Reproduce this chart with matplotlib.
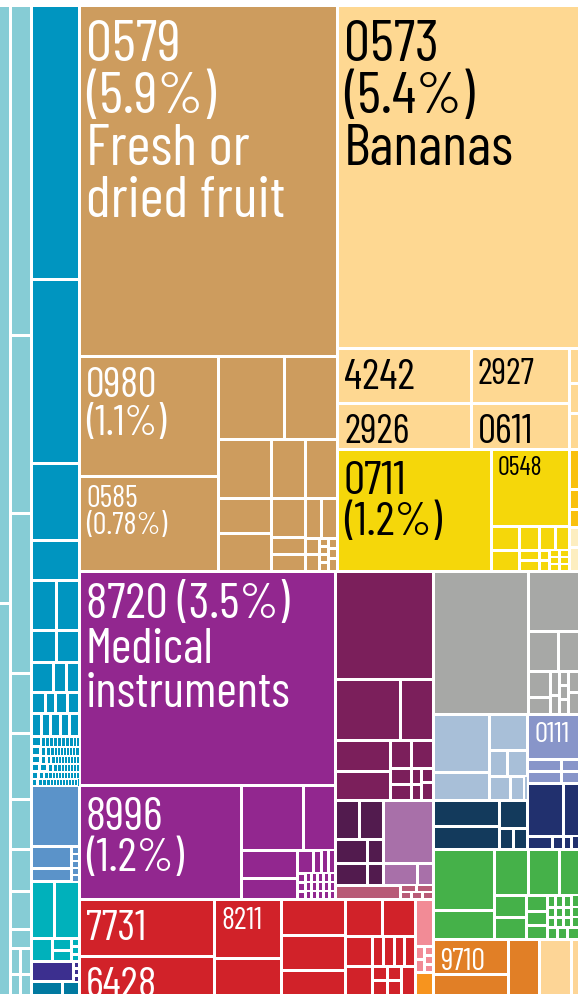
import matplotlib
matplotlib.use("Agg")
import matplotlib.pyplot as plt
from matplotlib.patches import Rectangle

W, H = 578, 994
TOP = 5.5

# colours per product group
LTEAL = "#86ccd5"
DTEAL = "#0095c0"
BLUE = "#5b93c9"
TEAL = "#00b1bb"
PNAVY = "#3c2f8f"
DTEAL2 = "#0079a0"
BROWN = "#cd9c5e"
LORANGE = "#fed892"
YELLOW = "#f5d70a"
GOLD = "#f9c10e"
PALE = "#fdeec0"
PURPLE = "#92278f"
MAGENTA = "#7b1f5b"
DPURPLE = "#521b4e"
LILAC = "#a870a9"
ROSE = "#b85b77"
RED = "#d12229"
PINK = "#f28b96"
ORANGE2 = "#f7941e"
GREY = "#a7a8a6"
LBLUE = "#a8bfd8"
PERI = "#8895c9"
NAVY = "#133a5c"
DNAVY = "#21306e"
GREEN = "#45b149"
ORANGE = "#e17f26"
LORANGE2 = "#fdd596"

# label text, font size, text colour
labels = {
    "0579": ("0579\n(5.9%)\nFresh or\ndried fruit", 42, "white"),
    "0573": ("0573\n(5.4%)\nBananas", 42, "black"),
    "0980": ("0980\n(1.1%)", 30, "white"),
    "0585": ("0585\n(0.78%)", 22, "white"),
    "4242": ("4242", 31, "black"),
    "2927": ("2927", 26, "black"),
    "2926": ("2926", 29, "black"),
    "0611": ("0611", 29, "black"),
    "0711": ("0711\n(1.2%)", 34, "black"),
    "0548": ("0548", 19, "black"),
    "8720": ("8720 (3.5%)\nMedical\ninstruments", 36, "white"),
    "8996": ("8996\n(1.2%)", 34, "white"),
    "7731": ("7731", 31, "white"),
    "6428": ("6428", 31, "white"),
    "8211": ("8211", 22, "white"),
    "0111": ("0111", 21, "white"),
    "9710": ("9710", 22, "white"),
}

# values (share of area) - nested lists alternate split direction
col_a = [59.75, 39.1]
col_b = [70.95, 38.38, 34.4, 12.9, 14.08, 10.75, 9.03, 8.17, 4.09,
         [2.85, 2.85], [2.05, 2.04]]
dteal_big = [131.5, 88.3, 37.2, 19.2,
             [12.375, 11.385], [8.125, 7.475], [6.49, 3.98, 3.69],
             [3.01, 2.15, 2.58, 2.58], [2.185, 2.3, 2.3, 2.07, 2.185]]
dteal_tiny = [
    [1.0, 0.4, 0.4, 0.4, 0.4, 0.4, 0.4, 0.4, 0.4, 0.3, 0.3],
    [0.81, 0.54, 0.36, 0.36, 0.27, 0.27, 0.27, 0.27, 0.27, 0.27, 0.27, 0.36],
    [0.72, 0.48, 0.4, 0.32, 0.24, 0.24, 0.24, 0.24, 0.24, 0.24, 0.24, 0.24],
    [0.64, 0.64, 0.48, 0.32, 0.32, 0.24, 0.24, 0.24, 0.24, 0.24, 0.24],
    [0.49, 0.35, 0.35, 0.28, 0.21, 0.21, 0.21, 0.21, 0.21, 0.21, 0.21, 0.21, 0.21],
    [0.42, 0.35, 0.28, 0.28, 0.21, 0.21, 0.21, 0.21, 0.21, 0.21, 0.21, 0.21, 0.21, 0.14],
]
blue_vals = [29.28, [[8.8, 5.2], [0.56, 0.56, 0.56, 0.56, 0.56]]]
teal_vals = [[13.395, 13.965], [4.83, [2.185, 2.185], [0.613, 0.613, 0.614]]]
pnavy_vals = [8.4, [0.4, 0.4, 0.4]]
dteal2_vals = [3.72, 2.04]

fruit_vals = [(905.58, "0579"),
              [[(166.8, "0980"), (131.355, "0585")],
               [[54.78, 43.99],
                [[31.27, 18.55, 19.875],
                 [[20.06, 18.88],
                  [[13.26, 5.78, 5.61],
                   [[6.4, 6.4],
                    [[2.24, 2.31], [0.72, 0.72, 0.72, 0.765], [0.9, 0.9, 1.125]]]]]]]]]
banana_vals = [(824.915, "0573"),
               [[(73.7, "4242"), (60.97, "2926")],
                [(53.9, "2927"), (44.59, "0611")],
                [2.975, 2.55, 3.0175]]]
yellow_vals = [(187.88, "0711"),
               [(60.06, "0548"),
                [6.72, 4.8, 3.84, 3.36],
                [5.88, [2.1, 2.1], [1.05, 1.05], [0.7, 0.7, 0.7], [0.7, 0.7, 0.7]]]]
gold_vals = [3.4, 1.7, 1.53]
pale_vals = [1.7, 2.04]

purple_vals = [(547.84, "8720"),
               [(184.68, "8996"),
                [[40.3, 20.8],
                 [[15.68, 11.76],
                  [[3.68, 1.84, 1.61, 1.61],
                   [[0.72, 0.72, 0.64], [0.54, 0.54, 0.48], [0.54, 0.54, 0.48],
                    [0.54, 0.54, 0.48], [0.54, 0.54, 0.48], [0.54, 0.54, 0.48]]]]]]]
magenta_vals = [105.84, [39.65, 20.13],
                [[17.05, 15.95],
                 [[5.88, 6.16], [[3.36, 3.36], [1.6, 1.6], [1.68, 2.16]]]]]
dpurple_vals = [[9.36, 9.36], [7.68, 3.84], [7.04, 3.52]]
lilac_vals = [31.5, [7.48, 3.52]]
rose_vals = [9.1, [[1.12, 1.19], [0.77, 0.77, 0.77]]]
red_vals = [[(77.235, "7731"), (51.49, "6428")],
            [(39.235, "8211"), 23.94],
            [23.04, 22.4, 15.36],
            [[13.69, 12.395], [8.1, 3.3, 3.3, 3.15, 3.3],
             [7.56, [2.1, 2.1], [1.96, 1.96], 4.06]]]
pink_vals = [8.225, [[1.17, 1.17], [0.765, 0.765, 0.68]]]
orange2_vals = [3.85]

grey_vals = [135.85, [29.7, [12.0, 7.8],
                      [[5.72, 3.74], [2.16, 1.71], [1.26, 1.26, 1.35], [2.0425, 2.0425]]]]
lblue_vals = [[32.48, 15.68], [13.86, [4.68, 5.33], [5.04, 3.36, 0.84]]]
navy_vals = [[17.16, 15.18], [7.98, [2.94, 3.045]]]
peri_vals = [(22.5, "0111"), [4.08, 1.92], [4.08, 1.92]]
dnavy_vals = [[19.08, 7.42], [3.25, 1.43, 1.04, 0.78]]
green_vals = [[37.21, 17.995],
              [[15.64, 14.26, 8.51],
               [[7.04, 7.2], [3.36, 2.94, 3.045],
                [[0.96, 0.96, 0.96, 0.78], [0.8, 0.8, 0.8, 0.65],
                 [0.8, 0.8, 0.8, 0.65], [1.25, 1.25, 1.3125]]]]]
orange_vals = [[(26.25, "9710"), 14.625], 16.895]
lorange2_vals = [17.44, 3.5425]

# a dict tags a subtree with a colour; its list splits across the other axis
tree = [
    {"c": LTEAL, "v": col_a},
    {"c": LTEAL, "v": col_b},
    [
        {"c": DTEAL, "v": [dteal_big + dteal_tiny]},
        {"c": BLUE, "v": [blue_vals]},
        {"c": TEAL, "v": [teal_vals]},
        {"c": PNAVY, "v": pnavy_vals},
        {"c": DTEAL2, "v": dteal2_vals},
    ],
    [
        [
            {"c": BROWN, "v": fruit_vals},
            [
                {"c": LORANGE, "v": [banana_vals]},
                {"c": YELLOW, "v": yellow_vals + [[
                    {"c": GOLD, "v": [gold_vals]},
                    {"c": PALE, "v": [pale_vals]},
                ]]},
            ],
        ],
        [
            [
                [
                    {"c": PURPLE, "v": purple_vals},
                    [
                        {"c": MAGENTA, "v": [magenta_vals]},
                        [{"c": DPURPLE, "v": dpurple_vals}, {"c": LILAC, "v": lilac_vals}],
                        {"c": ROSE, "v": rose_vals},
                    ],
                ],
                [
                    {"c": RED, "v": [red_vals]},
                    [{"c": PINK, "v": [pink_vals]}, {"c": ORANGE2, "v": orange2_vals}],
                ],
            ],
            [
                {"c": GREY, "v": grey_vals},
                [
                    [{"c": LBLUE, "v": lblue_vals}, {"c": NAVY, "v": navy_vals}],
                    [{"c": PERI, "v": [peri_vals]}, {"c": DNAVY, "v": [dnavy_vals]}],
                ],
                {"c": GREEN, "v": green_vals},
                [{"c": ORANGE, "v": [orange_vals]}, {"c": LORANGE2, "v": [lorange2_vals]}],
            ],
        ],
    ],
]


def size(node):
    if isinstance(node, dict):
        return size(node["v"])
    if isinstance(node, list):
        return sum(size(n) for n in node)
    if isinstance(node, tuple):
        return node[0]
    return node


def layout(node, x, y, w, h, axis, color, out):
    if isinstance(node, dict):
        layout(node["v"], x, y, w, h, axis, node["c"], out)
        return
    if isinstance(node, list):
        tot = sum(size(n) for n in node)
        pos = x if axis == "x" else y
        for n in node:
            f = size(n) / tot
            if axis == "x":
                layout(n, pos, y, w * f, h, "y", color, out)
                pos += w * f
            else:
                layout(n, x, pos, w, h * f, "x", color, out)
                pos += h * f
        return
    lab = node[1] if isinstance(node, tuple) else None
    out.append((x, y, w, h, color, lab))


cells = []
layout(tree, 0, TOP, W, H - TOP, "x", "#cccccc", cells)

fig = plt.figure(figsize=(W / 100, H / 100), dpi=100, facecolor="white")
ax = fig.add_axes([0, 0, 1, 1])
ax.set_xlim(0, W)
ax.set_ylim(H, 0)
ax.axis("off")

FONT = ["Barlow Condensed", "DejaVu Sans"]

for x, y, w, h, c, lab in cells:
    g = min(1.5, 0.2 * min(w, h))
    x0 = x + (g if x > 0.5 else 0)
    x1 = x + w - (g if x + w < W - 0.5 else 0)
    y0 = y + g
    y1 = y + h - (g if y + h < H - 0.5 else 0)
    ax.add_patch(Rectangle((x0, y0), x1 - x0, y1 - y0, facecolor=c,
                           edgecolor="none", linewidth=0))
    if lab:
        txt, fs, tc = labels[lab]
        ax.text(x0 + 5, y0 + 0.3 * fs, txt, color=tc, fontsize=fs, family=FONT,
                ha="left", va="top", linespacing=0.98)

fig.savefig("out.png", dpi=100, facecolor="white")
